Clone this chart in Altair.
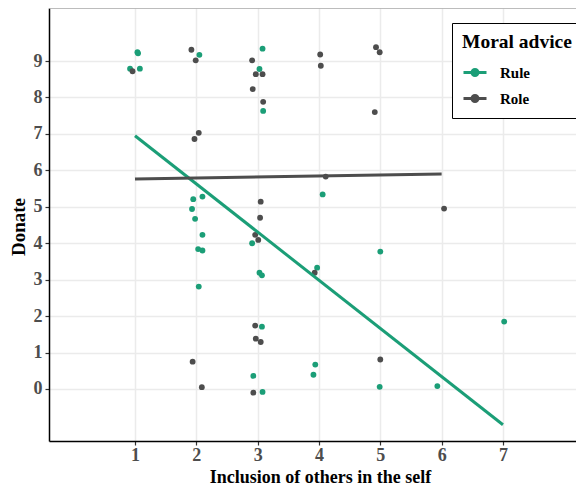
import altair as alt
import pandas as pd

# ---- data ----
rule_x = [1.04, 1.05, 0.92, 1.08, 2.05, 3.08, 3.03, 3.09, 4.06, 1.95, 2.10, 1.93, 1.98, 2.10, 2.03,
          2.10, 2.04, 2.91, 3.03, 3.07, 3.97, 3.07, 5.00, 7.02, 2.93, 3.08, 3.94, 3.91, 4.99, 5.93]
rule_y = [9.24, 9.21, 8.79, 8.79, 9.17, 9.34, 8.78, 7.63, 5.34, 5.21, 5.28, 4.94, 4.67, 4.23, 3.84,
          3.80, 2.81, 4.00, 3.19, 3.12, 3.33, 1.71, 3.77, 1.85, 0.36, -0.08, 0.67, 0.39, 0.06, 0.08]

role_x = [0.96, 1.92, 1.99, 2.91, 2.97, 3.08, 2.92, 3.09, 4.02, 4.03, 2.04, 1.97, 4.11, 3.05, 4.93,
          4.99, 4.91, 6.04, 3.04, 2.96, 3.01, 3.93, 2.96, 2.97, 3.05, 1.94, 2.09, 2.93, 5.00]
role_y = [8.72, 9.31, 9.02, 9.02, 8.64, 8.64, 8.23, 7.88, 9.18, 8.87, 7.03, 6.86, 5.83, 5.14, 9.38,
          9.24, 7.60, 4.95, 4.70, 4.23, 4.09, 3.19, 1.74, 1.38, 1.29, 0.75, 0.05, -0.10, 0.81]

# fitted line end points
rule_line_x = [1, 7]
rule_line_y = [6.95, -0.98]
role_line_x = [1, 6]
role_line_y = [5.76, 5.90]

groups = ["Rule", "Role"]
colors = ["#1b9e77", "#4d4d4d"]
x_ticks = [1, 2, 3, 4, 5, 6, 7]
y_ticks = [0, 1, 2, 3, 4, 5, 6, 7, 8, 9]

pts = pd.DataFrame({
    "x": rule_x + role_x,
    "y": rule_y + role_y,
    "advice": ["Rule"] * len(rule_x) + ["Role"] * len(role_x),
})
lines = pd.DataFrame({
    "x": rule_line_x + role_line_x,
    "y": rule_line_y + role_line_y,
    "advice": ["Rule"] * 2 + ["Role"] * 2,
})

FONT = "Liberation Serif"
W, H = 527, 433
PAD_L, PAD_B = 41, 45

xs = alt.Scale(domain=[-0.402, 8.191], nice=False, zero=False)
ys = alt.Scale(domain=[-1.427, 10.455], nice=False, zero=False)

sym_path = "M-1,0L1,0M-0.26,0A0.26,0.26 0 1,0 0.26,0A0.26,0.26 0 1,0 -0.26,0Z"

color = alt.Color(
    "advice:N",
    scale=alt.Scale(domain=groups, range=colors),
    legend=alt.Legend(
        title="Moral advice",
        orient="none",
        legendX=403,
        legendY=15,
        padding=10,
        strokeColor="black",
        fillColor="white",
        titleFont=FONT,
        titleFontSize=19.5,
        titleFontWeight="bold",
        titleColor="black",
        titlePadding=7,
        labelFont=FONT,
        labelFontSize=15,
        labelFontWeight="bold",
        labelColor="black",
        labelOffset=12,
        symbolType=sym_path,
        symbolSize=529,
        symbolStrokeWidth=3,
        symbolOpacity=1,
        rowPadding=4,
    ),
)

x_enc = alt.X("x:Q", scale=xs, axis=alt.Axis(
    values=x_ticks, title="Inclusion of others in the self", labelPadding=1,
    titleFontSize=18,
    titleX=271, titleY=41, titleBaseline="alphabetic", titleAlign="center", titleAnchor="middle"))
y_enc = alt.Y("y:Q", scale=ys, axis=alt.Axis(
    values=y_ticks, title="Donate",
    titleX=-25, titleY=H / 2 + 2, titleBaseline="alphabetic", titleAlign="center", titleAngle=270,
    titleAnchor="middle"))

line_layer = alt.Chart(lines).mark_line(strokeWidth=3, clip=True).encode(
    x=x_enc, y=y_enc, color=color, detail="advice:N"
)
pt_layer = alt.Chart(pts).mark_point(size=34, opacity=1, filled=True, strokeWidth=0).encode(
    x=x_enc, y=y_enc, color=color, stroke=color
)
top_rule = alt.Chart(pd.DataFrame({"a": [0]})).mark_rule(color="#a6a6a6", strokeWidth=1.5).encode(
    x=alt.value(0), x2=alt.value(W), y=alt.value(0)
)

chart = alt.layer(top_rule, pt_layer, line_layer).properties(
    width=W, height=H,
    autosize=alt.AutoSizeParams(type="none"),
    padding={"left": PAD_L, "top": 0, "right": 0, "bottom": PAD_B},
).configure_view(stroke=None).configure_axis(
    gridColor="#ebebeb",
    gridWidth=1.5,
    domainColor="black",
    domainWidth=1.5,
    tickColor="#333333",
    tickSize=4,
    tickWidth=1.2,
    labelFont=FONT,
    labelFontSize=18,
    labelFontWeight="bold",
    labelColor="#4d4d4d",
    labelPadding=3,
    titleFont=FONT,
    titleFontSize=19,
    titleFontWeight="bold",
    titleColor="black",
)

chart.save("out.html", embed_options={"renderer": "svg", "actions": False})
